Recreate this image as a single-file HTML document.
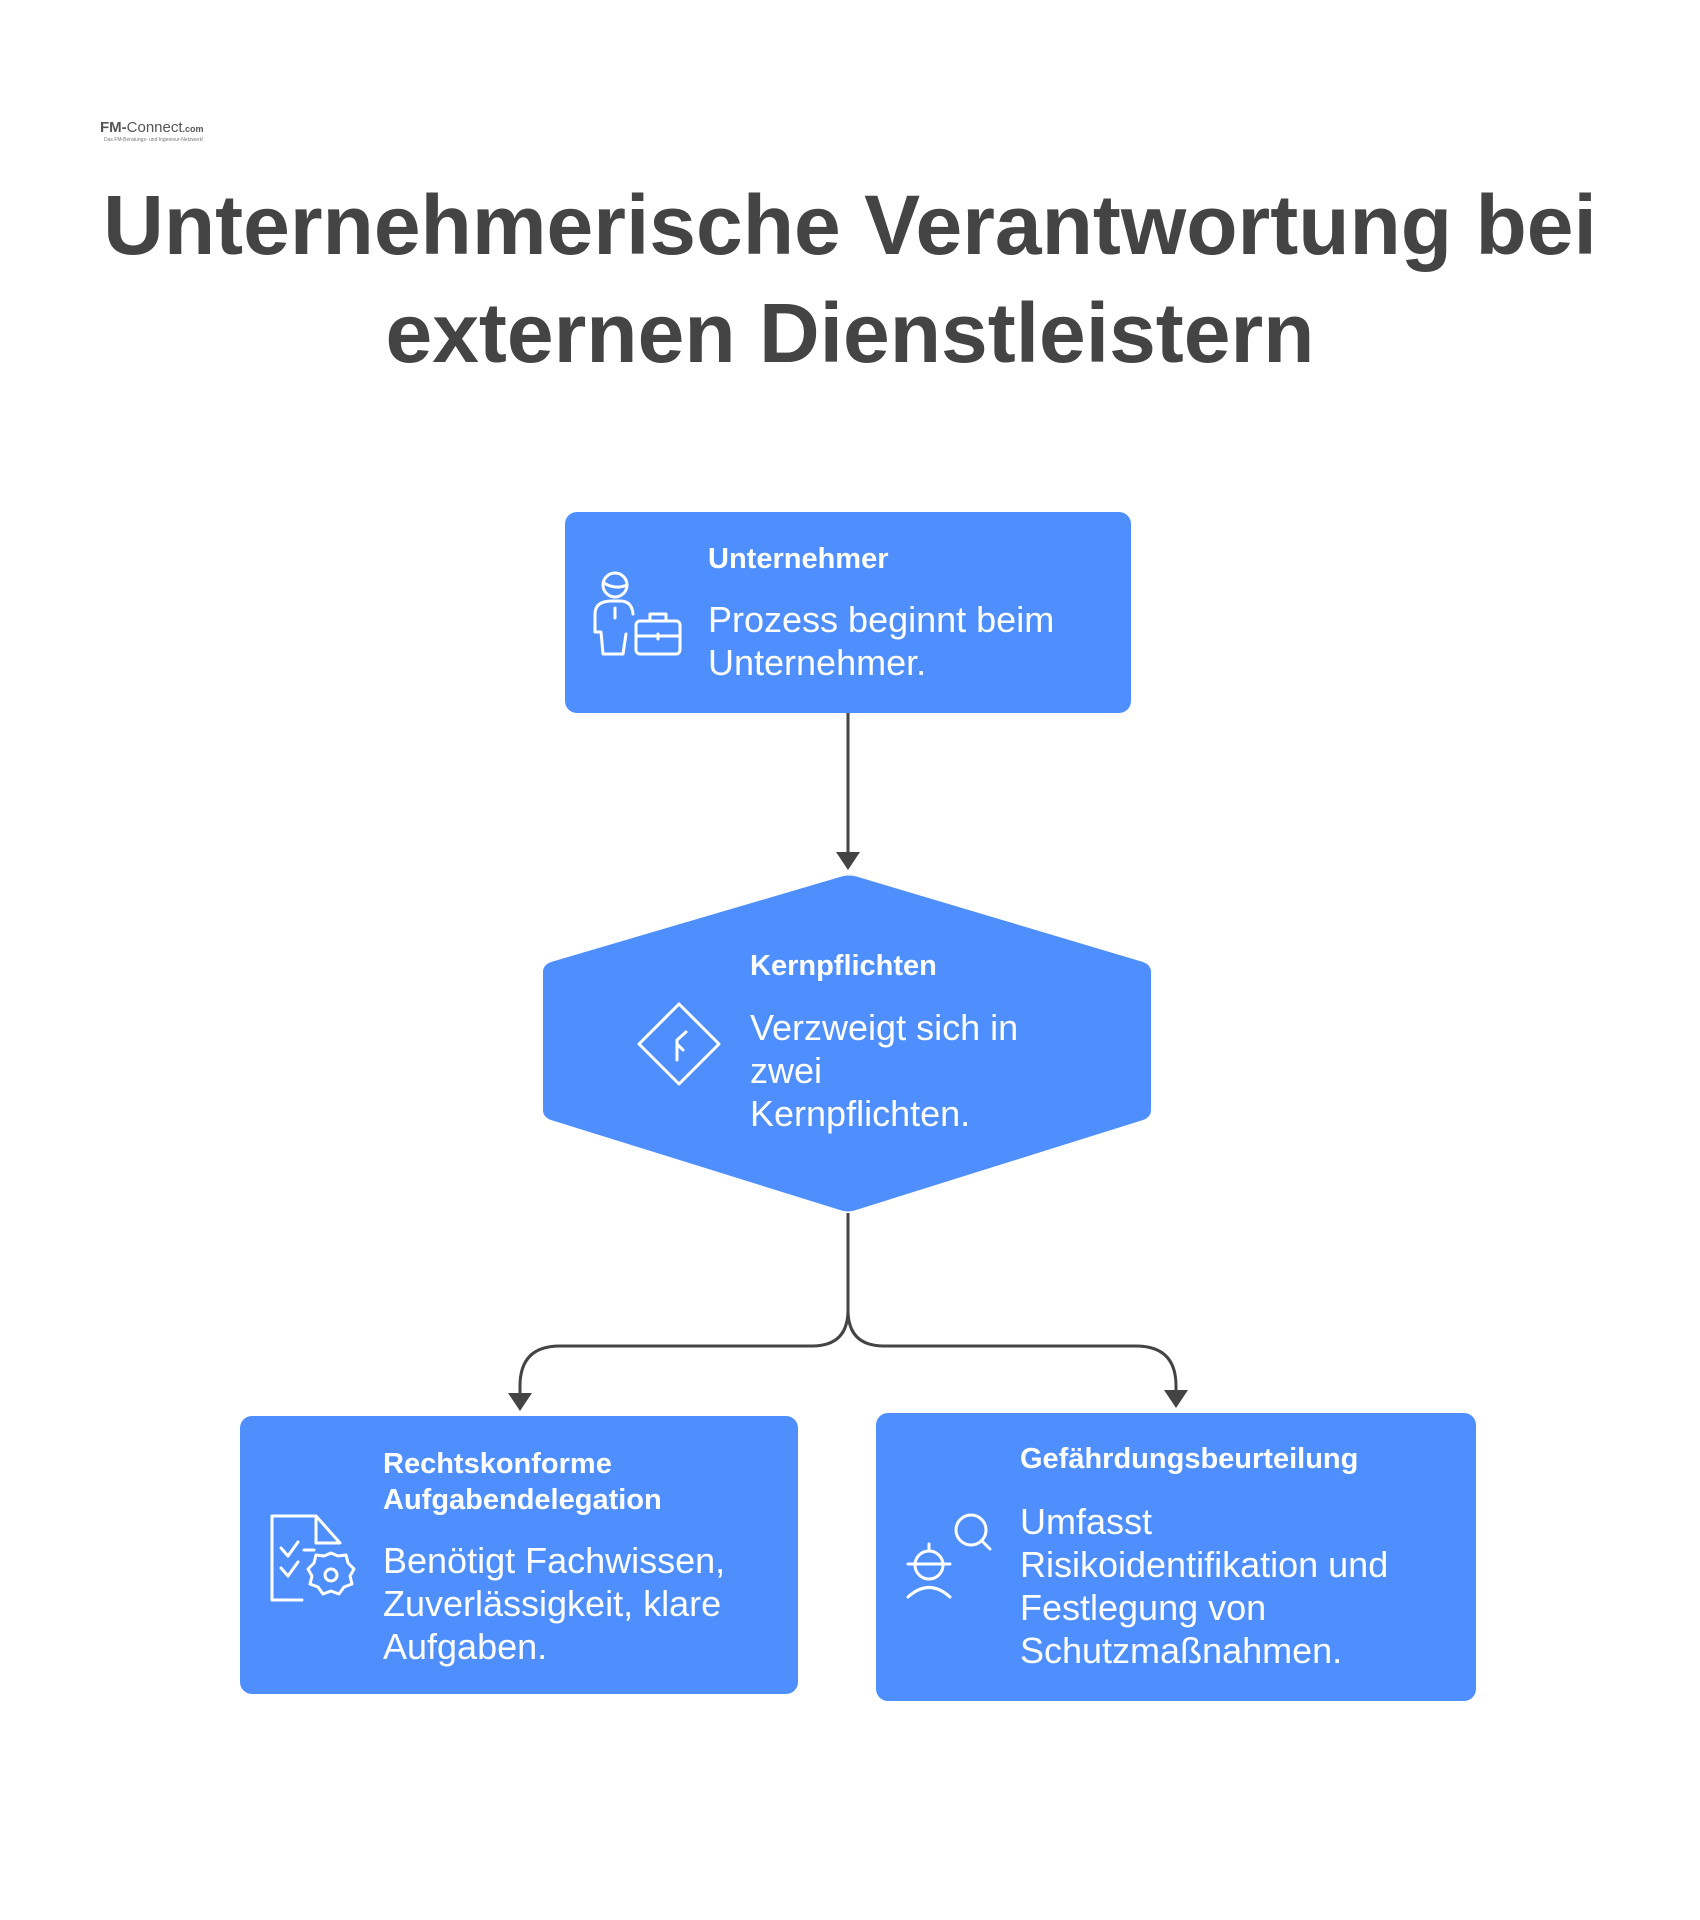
<!DOCTYPE html>
<html><head><meta charset="utf-8"><style>
body{margin:0;width:1700px;height:1920px;background:#fff;position:relative;font-family:"Liberation Sans",sans-serif;overflow:hidden}
.t{position:absolute;white-space:nowrap;color:#fff}
.h{font-weight:bold;font-size:29px}
.b{font-size:36px;line-height:43px}
.title{position:absolute;left:0;width:1700px;text-align:center;color:#444;font-weight:bold;font-size:84px;line-height:108px;top:171px}
</style></head><body>
<svg width="1700" height="1920" style="position:absolute;left:0;top:0">
<g fill="#4f8ffd">
<rect x="565" y="512" width="566" height="201" rx="12"/>
<path d="M848 874 L1143 962 Q1151 965 1151 972 L1151 1110 Q1151 1117 1143 1120 L856 1210 Q848 1213 840 1210 L551 1120 Q543 1117 543 1110 L543 972 Q543 965 551 962 L840 877 Q848 874 856 877Z"/>
<rect x="240" y="1416" width="558" height="278" rx="12"/>
<rect x="876" y="1413" width="600" height="288" rx="12"/>
</g>
<g stroke="#444" stroke-width="3" fill="none">
<line x1="848" y1="713" x2="848" y2="855"/>
<path d="M848 1213 L848 1310 Q848 1346 812 1346 L560 1346 Q520 1346 520 1386 L520 1395"/>
<path d="M848 1310 Q848 1346 884 1346 L1136 1346 Q1176 1346 1176 1386 L1176 1392"/>
</g>
<g fill="#444">
<path d="M836 852 L860 852 L848 870Z"/>
<path d="M508 1393 L532 1393 L520 1411Z"/>
<path d="M1164 1390 L1188 1390 L1176 1408Z"/>
</g>
<g stroke="#fff" stroke-width="3" fill="none" stroke-linecap="round" stroke-linejoin="round">
<circle cx="615" cy="585" r="12"/><path d="M604 583 Q615 590 627 585"/>
<path d="M595 632 L595 614 Q595 601 612 601 L620 601 Q632 601 633 614 M615 608 L615 618 M595 632 L601 632 L603 654 L623 654 L626 634"/>
<rect x="636" y="621" width="44" height="33" rx="4"/><path d="M650 621 L650 614 L666 614 L666 621 M636 636 L680 636 M658 634 L658 639"/>
<path d="M679 1004 L719 1044 L679 1084 L639 1044Z"/><path d="M677 1060 L677 1040 L686 1032 M677 1044 L683 1050"/>
<path d="M302 1600 L272 1600 L272 1516 L316 1516 L340 1543 L316 1543 L316 1516"/>
<path d="M281 1548 L288 1556 L298 1542 M281 1568 L288 1576 L298 1562 M304 1550 L314 1550"/>
<circle cx="331" cy="1575" r="6"/>
<path d="M331 1553 L338 1556 L346 1555 L348 1563 L354 1569 L350 1576 L352 1584 L344 1587 L339 1594 L331 1591 L323 1594 L318 1587 L310 1584 L312 1576 L308 1569 L314 1563 L316 1555 L324 1556Z"/>
<circle cx="971" cy="1530" r="15"/><path d="M982 1541 L990 1549"/>
<circle cx="929" cy="1565" r="14"/><path d="M929 1544 L929 1551 M908 1564 L950 1564 M908 1597 Q929 1578 950 1597"/>
</g>
</svg>
<div style="position:absolute;left:100px;top:119px;font:bold 15px 'Liberation Sans',sans-serif;color:#555">FM-<span style="font-weight:normal">Connect</span><span style="font-size:9px">.com</span></div>
<div style="position:absolute;left:104px;top:137px;font:5px 'Liberation Sans',sans-serif;color:#777">Das FM-Beratungs- und Ingenieur-Netzwerk!</div>
<div class="title">Unternehmerische Verantwortung bei<br>externen Dienstleistern</div>
<div class="t h" style="left:708px;top:543px">Unternehmer</div>
<div class="t b" style="left:708px;top:598px">Prozess beginnt beim<br>Unternehmer.</div>
<div class="t h" style="left:750px;top:950px">Kernpflichten</div>
<div class="t b" style="left:750px;top:1006px">Verzweigt sich in<br>zwei<br>Kernpflichten.</div>
<div class="t h" style="left:383px;top:1446px;line-height:36px">Rechtskonforme<br>Aufgabendelegation</div>
<div class="t b" style="left:383px;top:1539px">Benötigt Fachwissen,<br>Zuverlässigkeit, klare<br>Aufgaben.</div>
<div class="t h" style="left:1020px;top:1443px">Gefährdungsbeurteilung</div>
<div class="t b" style="left:1020px;top:1500px">Umfasst<br>Risikoidentifikation und<br>Festlegung von<br>Schutzmaßnahmen.</div>
</body></html>
